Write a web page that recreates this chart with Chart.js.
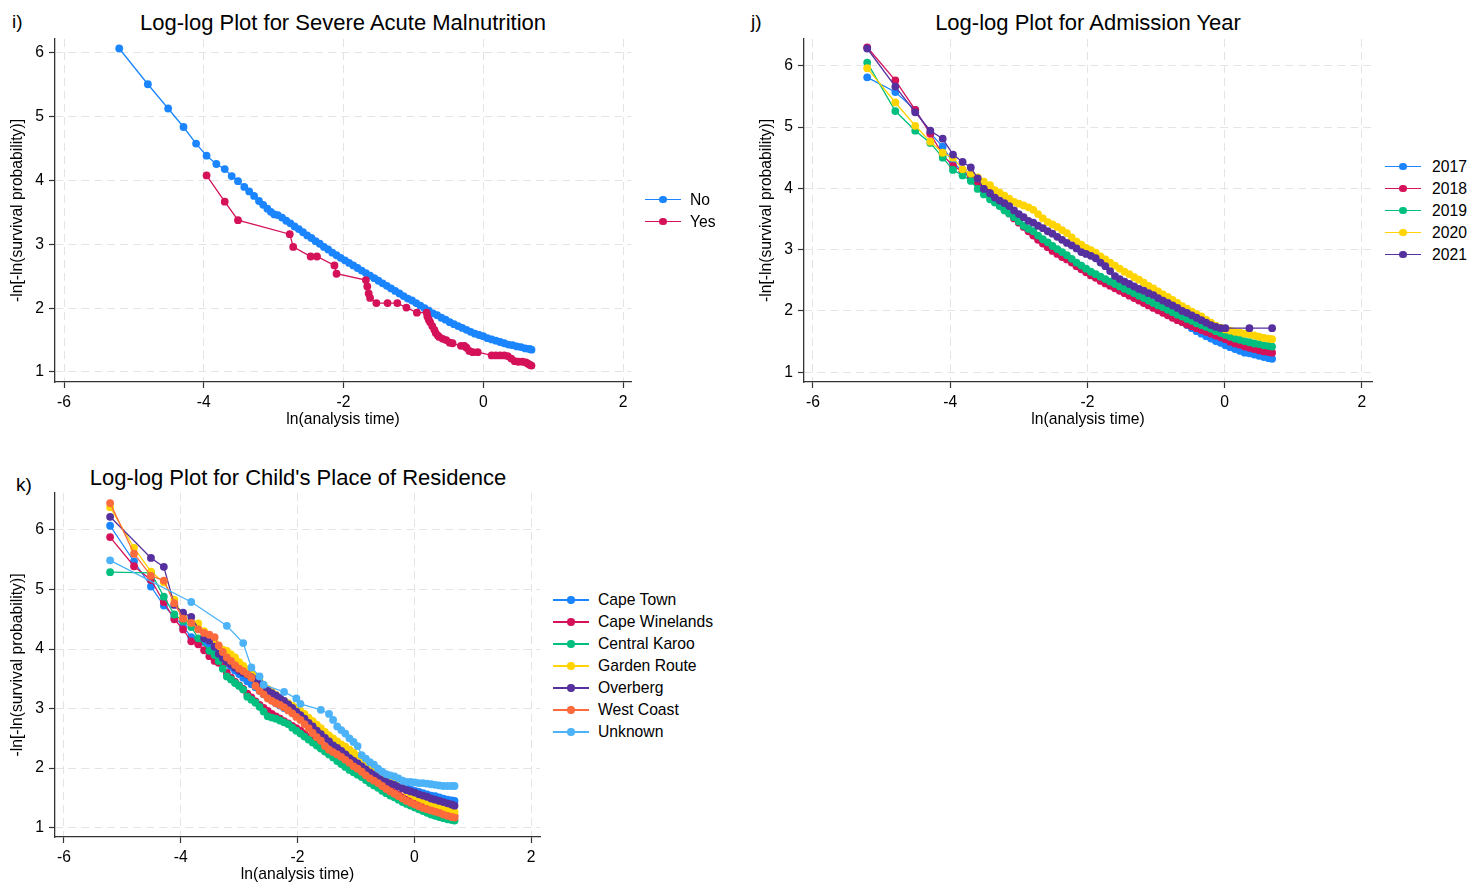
<!DOCTYPE html>
<html>
<head>
<meta charset="utf-8">
<script src="https://cdn.jsdelivr.net/npm/chart.js@4.4.1/dist/chart.umd.min.js"></script>
<style>
  html, body { margin:0; padding:0; background:#fff; }
  body { width:1482px; height:887px; position:relative; overflow:hidden;
         font-family:"Liberation Sans", Arial, Helvetica, sans-serif; color:#000; }
  canvas { position:absolute; }
  .ttl { position:absolute; font-size:22px; line-height:1; white-space:nowrap; transform:translate(-50%,-50%); }
  .pl { position:absolute; font-size:19px; line-height:1; white-space:nowrap; transform:translateY(-50%); }
</style>
</head>
<body>
<div class="pl" style="left:12px;top:21px;">i)</div>
<div class="ttl" style="left:343px;top:23px;">Log-log Plot for Severe Acute Malnutrition</div>
<div class="pl" style="left:751px;top:21px;">j)</div>
<div class="ttl" style="left:1088px;top:23px;">Log-log Plot for Admission Year</div>
<div class="pl" style="left:16px;top:484px;">k)</div>
<div class="ttl" style="left:298px;top:478px;">Log-log Plot for Child's Place of Residence</div>

<canvas id="ci" width="640" height="440" style="left:0;top:0;"></canvas>
<canvas id="cj" width="632" height="440" style="left:749px;top:0;"></canvas>
<canvas id="ck" width="549" height="437" style="left:0;top:450px;"></canvas>

<script>
// ---------- tick labels ----------
const xTicks = [-6, -4, -2, 0, 2];
const yTicks = [1, 2, 3, 4, 5, 6];

// ---------- panel i : Severe Acute Malnutrition ----------
const iSeries = ["No", "Yes"];
const iNoX = [-5.21,-4.80,-4.51,-4.29,-4.11,-3.96,-3.82,-3.70,-3.60,-3.51,-3.42,-3.35,-3.28,-3.21,-3.15,-3.09,-3.04,-2.99,
  -2.94,-2.88,-2.82,-2.76,-2.70,-2.64,-2.58,-2.52,-2.46,-2.40,
  -2.34,-2.28,-2.22,-2.16,-2.10,-2.04,-1.98,-1.92,-1.86,-1.80,
  -1.74,-1.68,-1.62,-1.56,-1.50,-1.44,-1.38,-1.32,-1.26,-1.20,
  -1.14,-1.08,-1.02,-0.96,-0.90,-0.84,-0.78,-0.72,-0.66,-0.60,
  -0.54,-0.48,-0.42,-0.36,-0.30,-0.24,-0.18,-0.12,-0.06,0.00,
  0.06,0.12,0.18,0.24,0.30,0.36,0.42,0.48,0.54,0.60,0.66,0.69];
const iNoY = [6.07,5.51,5.13,4.84,4.58,4.39,4.26,4.18,4.07,3.99,3.90,3.83,3.76,3.68,3.62,3.56,3.51,3.47,
  3.46,3.42,3.37,3.33,3.28,3.24,3.19,3.14,3.10,3.05,
  3.01,2.96,2.92,2.87,2.83,2.79,2.75,2.71,2.67,2.63,
  2.59,2.55,2.51,2.47,2.43,2.39,2.35,2.31,2.27,2.23,
  2.19,2.15,2.12,2.08,2.04,2.00,1.96,1.92,1.89,1.85,
  1.82,1.78,1.75,1.72,1.69,1.66,1.63,1.60,1.58,1.56,
  1.53,1.51,1.49,1.47,1.45,1.43,1.42,1.40,1.39,1.37,1.36,1.35];
const iYesX = [-3.96,-3.70,-3.51,-2.77,-2.72,-2.47,-2.38,-2.13,-2.10,-1.68,
  -1.66,-1.64,-1.62,-1.53,-1.37,-1.23,-1.10,-0.95,-0.81,-0.80,
  -0.78,-0.76,-0.73,-0.70,-0.68,-0.65,-0.63,-0.58,-0.53,-0.48,
  -0.44,-0.32,-0.27,-0.24,-0.20,-0.15,-0.08,0.12,0.18,0.24,
  0.30,0.35,0.40,0.45,0.50,0.56,0.61,0.64,0.67,0.69];
const iYesY = [4.08,3.67,3.38,3.16,2.96,2.81,2.81,2.67,2.54,2.44,
  2.34,2.23,2.16,2.08,2.08,2.08,2.01,1.93,1.93,1.87,
  1.82,1.78,1.72,1.66,1.61,1.57,1.55,1.52,1.50,1.46,
  1.45,1.41,1.41,1.38,1.33,1.31,1.31,1.26,1.26,1.26,
  1.26,1.25,1.21,1.17,1.16,1.16,1.15,1.13,1.11,1.10];

// ---------- panel j : Admission Year ----------
const jSeries = ["2017", "2018", "2019", "2020", "2021"];
const jX = [-5.21,-4.80,-4.51,-4.29,-4.11,-3.96,-3.82,-3.70,-3.60,-3.51,-3.42,-3.35,-3.28,
  -3.21,-3.14,-3.07,-3.00,-2.93,-2.86,-2.79,-2.72,-2.65,-2.58,
  -2.51,-2.44,-2.37,-2.30,-2.23,-2.16,-2.09,-2.02,-1.95,-1.88,
  -1.81,-1.74,-1.67,-1.60,-1.53,-1.46,-1.39,-1.32,-1.25,-1.18,
  -1.11,-1.04,-0.97,-0.90,-0.83,-0.76,-0.69,-0.62,-0.55,-0.48,
  -0.41,-0.34,-0.27,-0.20,-0.13,-0.06,0.01,0.08,0.15,0.22,
  0.29,0.36,0.43,0.50,0.57,0.64,0.69];
const j2017 = [5.81,5.57,5.28,4.90,4.68,4.42,4.28,4.17,4.10,4.00,3.92,3.86,3.74,
  3.67,3.60,3.53,3.46,3.39,3.32,3.26,3.19,3.13,3.07,
  3.01,2.96,2.91,2.86,2.81,2.76,2.71,2.66,2.61,2.57,
  2.53,2.49,2.44,2.40,2.36,2.32,2.28,2.24,2.20,2.16,
  2.12,2.08,2.04,2.00,1.96,1.91,1.87,1.82,1.77,1.72,
  1.67,1.63,1.59,1.55,1.51,1.48,1.44,1.41,1.38,1.35,
  1.32,1.31,1.29,1.27,1.25,1.23,1.22];
const j2018 = [6.30,5.76,5.28,4.89,4.55,4.36,4.28,4.17,4.09,4.03,3.93,3.85,3.72,
  3.66,3.59,3.51,3.44,3.37,3.30,3.23,3.16,3.10,3.04,
  2.98,2.93,2.88,2.84,2.79,2.73,2.68,2.63,2.58,2.54,
  2.49,2.45,2.41,2.37,2.33,2.29,2.25,2.21,2.17,2.13,
  2.09,2.05,2.01,1.97,1.93,1.89,1.85,1.82,1.78,1.75,
  1.72,1.69,1.66,1.63,1.60,1.57,1.54,1.50,1.47,1.45,
  1.42,1.40,1.38,1.36,1.34,1.33,1.32];
const j2019 = [6.05,5.26,4.94,4.74,4.50,4.30,4.21,4.12,3.99,3.90,3.82,3.77,3.71,
  3.64,3.59,3.53,3.46,3.39,3.34,3.30,3.23,3.17,3.12,
  3.06,3.01,2.96,2.91,2.85,2.79,2.74,2.69,2.64,2.60,
  2.56,2.52,2.48,2.44,2.40,2.36,2.33,2.29,2.25,2.21,
  2.17,2.13,2.09,2.06,2.02,1.98,1.94,1.91,1.87,1.84,
  1.80,1.77,1.74,1.71,1.67,1.64,1.61,1.58,1.55,1.53,
  1.51,1.49,1.47,1.46,1.44,1.43,1.42];
const j2020 = [5.96,5.40,5.02,4.76,4.58,4.50,4.31,4.24,4.18,4.11,4.05,3.97,3.93,
  3.88,3.83,3.78,3.75,3.72,3.69,3.65,3.58,3.51,3.45,
  3.41,3.37,3.32,3.27,3.20,3.13,3.08,3.03,2.99,2.95,
  2.89,2.84,2.79,2.74,2.69,2.64,2.60,2.55,2.51,2.46,
  2.41,2.37,2.32,2.27,2.23,2.18,2.13,2.08,2.04,1.99,
  1.95,1.91,1.86,1.81,1.76,1.73,1.70,1.68,1.66,1.65,
  1.63,1.62,1.60,1.58,1.56,1.55,1.54];
const j2021 = [6.28,5.66,5.24,4.94,4.81,4.55,4.43,4.34,4.16,3.99,3.92,3.85,3.80,
  3.76,3.71,3.64,3.58,3.53,3.47,3.44,3.39,3.35,3.30,
  3.26,3.21,3.16,3.11,3.07,3.02,2.96,2.93,2.90,2.86,
  2.79,2.73,2.65,2.57,2.52,2.48,2.44,2.40,2.36,2.33,
  2.29,2.26,2.21,2.17,2.13,2.09,2.05,2.00,1.97,1.93,
  1.89,1.85,1.81,1.77,1.74,1.72,1.72,null,null,null,
  null,1.72,null,null,null,null,1.72];

// ---------- panel k : Child's Place of Residence ----------
const kSeries = ["Cape Town", "Cape Winelands", "Central Karoo", "Garden Route", "Overberg", "West Coast", "Unknown"];
const kX = [-5.21,-4.80,-4.51,-4.29,-4.11,-3.96,-3.82,-3.70,-3.60,-3.51,-3.42,-3.35,-3.28,
  -3.21,-3.14,-3.07,-3.00,-2.93,-2.86,-2.79,-2.72,-2.65,-2.58,
  -2.51,-2.44,-2.37,-2.30,-2.23,-2.16,-2.09,-2.02,-1.95,-1.88,
  -1.81,-1.74,-1.67,-1.60,-1.53,-1.46,-1.39,-1.32,-1.25,-1.18,
  -1.11,-1.04,-0.97,-0.90,-0.83,-0.76,-0.69,-0.62,-0.55,-0.48,
  -0.41,-0.34,-0.27,-0.20,-0.13,-0.06,0.01,0.08,0.15,0.22,
  0.29,0.36,0.43,0.50,0.57,0.64,0.69];
const kCapeTown = [6.07,5.47,5.05,4.73,4.54,4.38,4.20,4.16,4.12,4.03,3.97,3.90,3.82,
  3.76,3.70,3.64,3.58,3.52,3.46,3.41,3.36,3.30,3.24,
  3.19,3.14,3.09,3.05,3.01,2.98,2.94,2.89,2.84,2.78,
  2.73,2.68,2.63,2.58,2.52,2.47,2.42,2.37,2.32,2.27,
  2.21,2.16,2.10,2.05,2.00,1.96,1.92,1.88,1.84,1.81,
  1.78,1.75,1.72,1.69,1.67,1.64,1.62,1.60,1.58,1.56,
  1.54,1.53,1.51,1.49,1.47,1.46,1.45];
const kCapeWinelands = [5.88,5.39,5.16,4.79,4.50,4.33,4.13,4.08,3.98,3.88,3.80,3.77,3.73,
  3.60,3.52,3.45,3.39,3.33,3.25,3.19,3.12,3.06,3.01,
  2.96,2.91,2.87,2.83,2.79,2.75,2.71,2.67,2.63,2.58,
  2.52,2.46,2.41,2.37,2.33,2.29,2.25,2.21,2.16,2.12,
  2.07,2.03,1.99,1.94,1.90,1.85,1.80,1.76,1.71,1.67,
  1.63,1.59,1.55,1.51,1.47,1.44,1.41,1.38,1.35,1.32,
  1.30,1.28,1.26,1.24,1.22,1.21,1.20];
const kCentralKaroo = [5.29,null,5.28,4.88,4.58,4.47,4.37,4.18,null,3.97,3.90,3.80,3.67,
  3.54,3.49,3.43,3.38,3.32,3.20,3.15,3.10,3.03,2.95,
  2.87,2.85,2.83,2.80,2.77,2.74,2.68,2.63,2.58,2.53,
  2.48,2.43,2.38,2.33,2.28,2.23,2.18,2.12,2.07,2.02,
  1.97,1.93,1.89,1.85,1.80,1.75,1.71,1.67,1.62,1.58,
  1.54,1.51,1.47,1.43,1.40,1.37,1.34,1.31,1.28,1.25,
  1.22,1.20,1.18,1.16,1.14,1.13,1.12];
const kGardenRoute = [6.38,5.70,5.30,5.12,4.83,4.54,4.44,4.43,4.30,4.20,4.12,4.04,3.99,
  3.97,3.91,3.86,3.78,3.72,3.66,3.60,3.54,3.46,3.39,
  3.33,3.28,3.23,3.18,3.13,3.09,3.05,3.01,2.96,2.91,
  2.85,2.79,2.73,2.67,2.61,2.55,2.50,2.45,2.40,2.36,
  2.31,2.26,2.21,2.15,2.09,2.03,1.97,1.92,1.86,1.82,
  1.78,1.74,1.70,1.66,1.61,1.57,1.53,1.50,1.47,1.44,
  1.41,1.39,1.36,1.33,1.30,1.28,1.26];
const kOverberg = [6.22,null,5.53,5.38,4.74,4.61,4.54,null,4.18,4.14,4.04,3.92,3.85,
  3.80,3.74,3.69,3.64,3.60,3.57,3.53,3.49,3.43,3.36,
  3.30,3.26,3.22,3.18,3.13,3.07,3.01,2.95,2.89,2.83,
  2.76,2.70,2.63,2.57,2.51,2.45,2.38,2.34,2.29,2.23,
  2.17,2.12,2.08,2.03,1.98,1.93,1.89,1.85,1.80,1.77,
  1.74,1.72,1.69,1.66,1.63,1.61,1.59,1.56,1.54,1.52,
  1.49,1.47,1.45,1.43,1.41,1.39,1.37];
const kWestCoast = [6.45,5.60,5.23,5.15,4.77,4.51,4.44,4.33,4.27,4.24,4.20,4.06,3.95,
  3.86,3.80,3.73,3.67,3.63,3.58,3.52,3.38,3.30,3.24,
  3.17,3.13,3.09,3.06,3.02,2.97,2.92,2.86,2.81,2.74,
  2.67,2.59,2.52,2.46,2.37,2.31,2.27,2.23,2.19,2.14,
  2.09,2.03,1.99,1.94,1.88,1.83,1.79,1.75,1.70,1.65,
  1.61,1.57,1.53,1.49,1.45,1.42,1.39,1.36,1.33,1.31,
  1.29,1.27,1.25,1.22,1.20,1.18,1.17];
const kUnknown = [5.49,null,null,null,null,null,4.79,null,null,null,null,null,null,
  4.39,null,null,null,4.10,null,3.69,null,3.54,3.40,
  null,null,null,null,3.28,null,null,3.17,3.08,null,
  null,null,null,2.98,null,2.91,2.81,2.70,2.64,2.58,
  2.50,2.44,2.37,2.22,2.16,2.10,2.06,1.99,1.94,1.90,
  1.88,1.86,1.83,1.79,1.77,1.77,1.76,1.75,1.75,1.74,
  1.73,1.72,1.71,1.70,1.70,1.70,1.70];

// ---------- styling ----------
const palette = ["#1a85ff", "#d41159", "#00bf7f", "#ffd400", "#55309e", "#fd6a3b", "#4db3f8"];
const FONT = '"Liberation Sans", Arial, Helvetica, sans-serif';
const FS = 15.7;
const GRID = "#e4e4e4";
const AXIS = "#333333";

function points(xs, ys) {
  const out = [];
  for (let i = 0; i < xs.length; i++) {
    if (ys[i] !== null && ys[i] !== undefined) out.push({ x: xs[i], y: ys[i] });
  }
  return out;
}

function dataset(label, pts, color, idx, n) {
  return {
    label: label,
    data: pts,
    borderColor: color,
    backgroundColor: color,
    pointBackgroundColor: color,
    pointBorderColor: color,
    pointBorderWidth: 0,
    pointRadius: 3.9,
    pointHoverRadius: 3.9,
    borderWidth: 1.3,
    tension: 0,
    spanGaps: true,
    fill: false,
    order: n - idx
  };
}

function axis(isX, lo, hi) {
  const ticksArr = isX ? xTicks : yTicks;
  return {
    type: 'linear',
    position: isX ? 'bottom' : 'left',
    min: lo, max: hi,
    bounds: 'data',
    afterBuildTicks: s => { s.ticks = ticksArr.map(v => ({ value: v })); },
    afterFit: s => { if (isX) s.height = 47; else s.width = 55; },
    grid: { color: GRID, lineWidth: 1, drawTicks: true, tickLength: 6, tickColor: AXIS, tickWidth: 1.2 },
    border: { display: true, color: AXIS, width: 1.3, dash: [8, 5] },
    ticks: { color: '#000', font: { family: FONT, size: FS }, padding: 5,
             maxRotation: 0, minRotation: 0, autoSkip: false, callback: v => String(v) },
    title: { display: true, text: isX ? 'ln(analysis time)' : '-ln[-ln(survival probability)]',
             color: '#000', font: { family: FONT, size: FS },
             padding: isX ? { top: 0, bottom: 0 } : { top: 8, bottom: 0 } }
  };
}

function build(id, datasets, g) {
  return new Chart(document.getElementById(id).getContext('2d'), {
    type: 'line',
    data: { datasets: datasets },
    options: {
      responsive: false, maintainAspectRatio: false, animation: false, devicePixelRatio: 1,
      events: [],
      layout: { padding: { left: 0, top: g.top, right: g.right, bottom: g.bottom } },
      plugins: { legend: { display: false }, tooltip: { enabled: false }, title: { display: false } },
      scales: { x: axis(true, g.xmin, g.xmax), y: axis(false, g.ymin, g.ymax) }
    }
  });
}

function legend(left, top, names, textLeft) {
  const box = document.createElement('div');
  box.style.cssText = 'position:absolute;left:' + left + 'px;top:' + top + 'px;';
  names.forEach((name, i) => {
    const c = palette[i];
    const row = document.createElement('div');
    row.style.cssText = 'position:absolute;left:0;top:' + (i * 22) + 'px;height:22px;width:200px;';
    const line = document.createElement('span');
    line.style.cssText = 'position:absolute;left:0;top:10.3px;width:36px;height:1.5px;background:' + c + ';';
    const dot = document.createElement('span');
    dot.style.cssText = 'position:absolute;left:14.4px;top:7.4px;width:7.4px;height:7.4px;border-radius:50%;background:' + c + ';';
    const txt = document.createElement('span');
    txt.style.cssText = 'position:absolute;left:' + textLeft + 'px;top:0;line-height:22px;font-size:' + FS + 'px;white-space:nowrap;';
    txt.textContent = name;
    row.appendChild(line); row.appendChild(dot); row.appendChild(txt);
    box.appendChild(row);
  });
  document.body.appendChild(box);
}

// panel i
build('ci', [
  dataset(iSeries[0], points(iNoX, iNoY), palette[0], 0, 2),
  dataset(iSeries[1], points(iYesX, iYesY), palette[1], 1, 2)
], { top: 39, right: 9, bottom: 11, xmin: -6.129, xmax: 2.114, ymin: 0.843, ymax: 6.219 });

// panel j
const jValues = [j2017, j2018, j2019, j2020, j2021];
build('cj', jSeries.map((name, i) => dataset(name, points(jX, jValues[i]), palette[i], i, jSeries.length)),
  { top: 39, right: 9, bottom: 11, xmin: -6.131, xmax: 2.146, ymin: 0.842, ymax: 6.435 });

// panel k
const kValues = [kCapeTown, kCapeWinelands, kCentralKaroo, kGardenRoute, kOverberg, kWestCoast, kUnknown];
build('ck', kSeries.map((name, i) => dataset(name, points(kX, kValues[i]), palette[i], i, kSeries.length)),
  { top: 43, right: 9, bottom: 3, xmin: -6.154, xmax: 2.154, ymin: 0.844, ymax: 6.62 });

legend(645, 188.5, iSeries, 45);
legend(1385, 155.7, jSeries, 47);
legend(553, 589, kSeries, 45);
</script>
</body>
</html>
